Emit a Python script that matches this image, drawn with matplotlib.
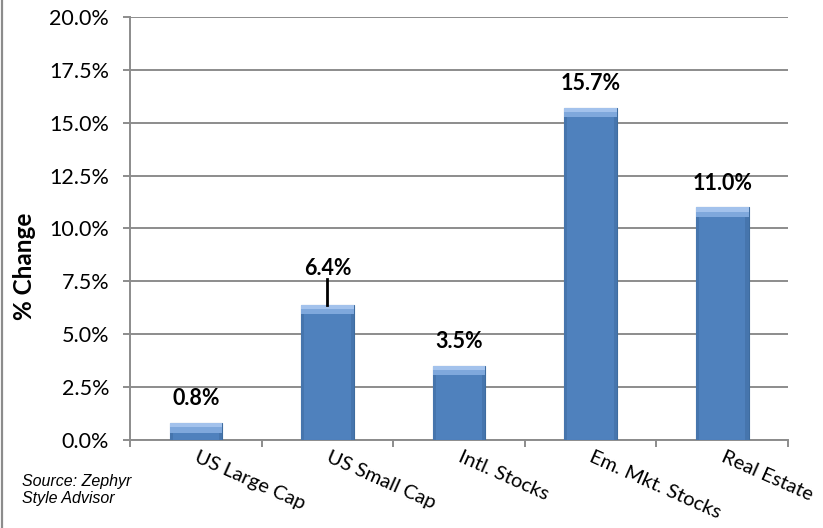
import matplotlib.pyplot as plt
from matplotlib.lines import Line2D
from matplotlib.ticker import FuncFormatter, MultipleLocator
import numpy as np

# Asset class returns (%)
categories = ["US Large Cap", "US Small Cap", "Intl. Stocks", "Em. Mkt. Stocks", "Real Estate"]
returns = [0.8, 6.4, 3.5, 15.7, 11.0]
# extra lift for labels that need a leader line
label_lift = [0.0, 0.55, 0.0, 0.0, 0.0]

plt.rcParams['font.family'] = ['Lato', 'DejaVu Sans']

fig = plt.figure(figsize=(8.23, 5.28), dpi=100)
ax = fig.add_axes([0.158, 0.1667, 0.7995, 0.8011])

x = np.arange(len(categories))
bar_w = 0.4
bars = ax.bar(x, returns, width=bar_w, color='#4F81BD', edgecolor='#3E6C9F', linewidth=0.8, zorder=3)

# lighter bevel along the top of each bar, darker shade along the sides
bevel = 0.45
for xi, v in zip(x, returns):
    h = min(bevel, v * 0.6)
    ax.bar(xi, h, width=bar_w, bottom=v - h, color='#7FA8DC', edgecolor='none', zorder=4)
    ax.bar(xi, h * 0.45, width=bar_w, bottom=v - h * 0.45, color='#A3C2EC', edgecolor='none', zorder=4)
    ax.bar(xi - bar_w / 2 + 0.012, v - h, width=0.024, color='#4675AD', edgecolor='none', zorder=4)
    ax.bar(xi + bar_w / 2 - 0.012, v - h, width=0.024, color='#4675AD', edgecolor='none', zorder=4)

# value labels
for xi, v, lift in zip(x, returns, label_lift):
    ty = v + 1.15 + lift
    ax.text(xi, ty, f"{v:.1f}%", ha='center', va='center', fontsize=15.5, fontweight='bold', zorder=5)
    if lift > 0:
        ax.plot([xi, xi], [v, ty - 0.5], color='black', lw=2, zorder=5)

ax.set_ylim(0, 20)
ax.set_xlim(-0.5, len(categories) - 0.5)
ax.yaxis.set_major_locator(MultipleLocator(2.5))
ax.yaxis.set_major_formatter(FuncFormatter(lambda v, p: f"{v:.1f}%"))
ax.set_xticks(np.arange(-0.5, len(categories), 1.0))
ax.set_xticklabels([])

ax.grid(axis='y', color='#8C8C8C', lw=1.4, zorder=0)
for s in ['top', 'right']:
    ax.spines[s].set_visible(False)
for s in ['left', 'bottom']:
    ax.spines[s].set_color('#8C8C8C')
    ax.spines[s].set_linewidth(1.4)
ax.tick_params(axis='both', colors='#8C8C8C', length=5, width=1.4, direction='out')
ax.tick_params(axis='y', labelcolor='black', labelsize=15.5, pad=10)

for xi, name in zip(x, categories):
    ax.text(xi, -0.75, name, rotation=-24, rotation_mode='anchor', ha='left', va='center',
            fontsize=14.5, transform=ax.transData, clip_on=False)

ax.set_ylabel("% Change", fontsize=17.5, fontweight='bold', va='center')
ax.yaxis.set_label_coords(-0.16, 0.41)

fig.text(0.027, 0.072, "Source: Zephyr\nStyle Advisor", fontsize=11.5, style='italic',
         family=['Liberation Sans', 'DejaVu Sans'], va='center', linespacing=1.1)

# chart border on the left edge
fig.add_artist(Line2D([0.003, 0.003], [0, 1], color='#8C8C8C', lw=1.6, transform=fig.transFigure))

fig.savefig("out.png", dpi=100)
